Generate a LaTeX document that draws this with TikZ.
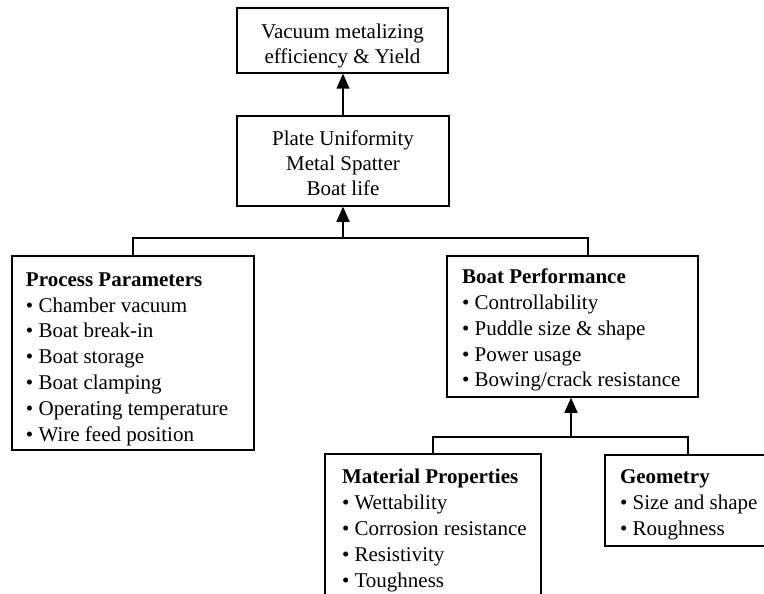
\documentclass[tikz,border=0pt]{standalone}
\usepackage{fontspec}
\setmainfont{Liberation Serif}
\usetikzlibrary{arrows.meta}
\newcommand{\fstrut}[1]{\rule{0pt}{#1}}
\begin{document}
\begin{tikzpicture}[x=1pt,y=-1pt,
  box/.style={draw, line width=1.5pt, rectangle, inner ysep=0pt,
    font=\fontsize{21}{25.8}\selectfont},
  conn/.style={line width=1.5pt},
  arr/.style={line width=1.5pt, -{Triangle[length=15pt,width=13pt]}}
]
\useasboundingbox (0,0) rectangle (764,594);
\clip (0,0) rectangle (764,594);
\node[box, minimum width=211pt, minimum height=65pt, align=center, inner xsep=0pt,
  font=\fontsize{21}{25.4}\selectfont] (top) at (342.5,40.5)
  {\fstrut{26pt}Vacuum metalizing\\efficiency \& Yield};
\node[box, minimum width=212pt, minimum height=90pt, align=center, inner xsep=0pt,
  font=\fontsize{21}{25.2}\selectfont] (mid) at (343,161)
  {\fstrut{19pt}Plate Uniformity\\Metal Spatter\\Boat life};
\node[box, inner xsep=14pt, text width=214pt, minimum height=194pt, align=flush left] (proc) at (133,353)
  {\fstrut{26pt}\mbox{\textbf{Process Parameters}}\\
   \mbox{\textbullet\ Chamber vacuum}\\
   \mbox{\textbullet\ Boat break-in}\\
   \mbox{\textbullet\ Boat storage}\\
   \mbox{\textbullet\ Boat clamping}\\
   \mbox{\textbullet\ Operating temperature}\\
   \mbox{\textbullet\ Wire feed position}};
\node[box, inner xsep=15pt, text width=221pt, minimum height=141pt, align=flush left] (perf) at (572.5,326.5)
  {\fstrut{22pt}\mbox{\textbf{Boat Performance}}\\
   \mbox{\textbullet\ Controllability}\\
   \mbox{\textbullet\ Puddle size \& shape}\\
   \mbox{\textbullet\ Power usage}\\
   \mbox{\textbullet\ Bowing/crack resistance}};
\node[box, inner xsep=17pt, text width=182pt, minimum height=153pt, align=flush left] (mat) at (433,530.5)
  {\mbox{\textbf{Material Properties}}\\
   \mbox{\textbullet\ Wettability}\\
   \mbox{\textbullet\ Corrosion resistance}\\
   \mbox{\textbullet\ Resistivity}\\
   \mbox{\textbullet\ Toughness}};
\node[box, inner xsep=15pt, text width=155pt, minimum height=91pt, align=flush left] (geo) at (697.5,500.5)
  {\fstrut{22pt}\mbox{\textbf{Geometry}}\\
   \mbox{\textbullet\ Size and shape}\\
   \mbox{\textbullet\ Roughness}};
% connectors
\draw[arr] (mid.north) -- (mid.north |- top.south);
\coordinate (j1) at (343,238);
\coordinate (r1) at (588,238);
\draw[conn] (proc.north) |- (r1) -- (r1 |- perf.north);
\draw[arr] (j1) -- (j1 |- mid.south);
\coordinate (j2) at (571,437);
\coordinate (r2) at (688,437);
\draw[conn] (mat.north) |- (r2) -- (r2 |- geo.north);
\draw[arr] (j2) -- (j2 |- perf.south);
\end{tikzpicture}
\end{document}
